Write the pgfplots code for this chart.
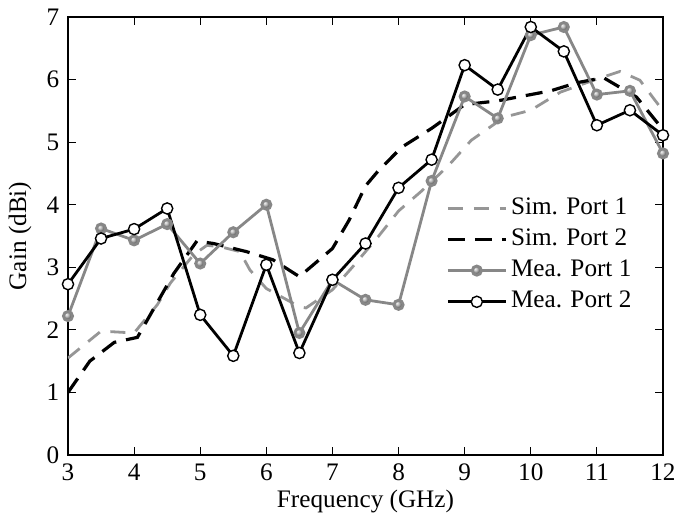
\documentclass[border=0pt]{standalone}
\usepackage{fontspec}
\setmainfont{Liberation Serif}
\usepackage{pgfplots}
\pgfplotsset{compat=1.18}
\definecolor{simgray}{RGB}{150,150,150}
\definecolor{meagray}{RGB}{135,135,135}
\begin{document}
\fontsize{12.6}{15}\selectfont
\begin{tikzpicture}
\useasboundingbox (-34pt,-29pt) rectangle (311pt,227.5pt);
\begin{axis}[
  scale only axis,
  width=297.5pt, height=219pt,
  xmin=3, xmax=12, ymin=0, ymax=7,
  xtick={3,4,...,12}, ytick={0,1,...,7},
  tick align=inside,
  major tick length=4pt,
  axis line style={line width=0.9pt},
  tick style={line width=0.6pt, black},
  /pgf/number format/assume math mode=true,
  tick label style={font=\fontsize{12.6}{15}\selectfont},
  label style={font=\fontsize{12.6}{15}\selectfont},
  xlabel={Frequency (GHz)},
  ylabel={Gain (dBi)},
  xlabel style={yshift=4pt},
  ylabel style={yshift=-1pt},
  legend style={at={(rel axis cs:0.635,0.60)}, anchor=north west, draw=none, fill=none,
    inner sep=0pt, row sep=0pt,
    nodes={text height=9pt, text depth=3pt, inner sep=1.8pt, font=\fontsize{12.6}{15}\selectfont}},
  legend cell align=left,
  legend image code/.code={\draw[mark repeat=2,mark phase=2,#1] plot coordinates {(0pt,0pt) (14.5pt,0pt) (29pt,0pt)};},
]
% Sim. Port 1
\addplot[simgray, line width=1.4pt, dash pattern=on 7.5pt off 5.5pt] coordinates {
(3,1.55) (3.5,1.98) (4,1.95) (4.35,2.4) (4.55,2.75) (4.9,3.2) (5.1,3.35) (5.3,3.33) (5.6,3.25)
(5.75,2.96) (6,2.66) (6.5,2.37) (6.6,2.35) (7,2.64) (7.3,3.0) (7.7,3.5) (8,3.9) (8.35,4.22)
(8.75,4.62) (9.1,5.03) (9.6,5.4) (10,5.51) (10.45,5.8) (10.95,5.99) (11.35,6.13) (11.65,5.99) (12,5.5)};
\addlegendentry{Sim. Port 1}
% Sim. Port 2
\addplot[black, line width=1.6pt, dash pattern=on 8.5pt off 5pt] coordinates {
(3,1.0) (3.33,1.5) (3.7,1.8) (4.05,1.88) (4.6,2.9) (4.95,3.42) (5.2,3.38) (5.7,3.25) (6.1,3.12)
(6.5,2.85) (7,3.3) (7.25,3.75) (7.5,4.3) (7.7,4.55) (8.05,4.92) (8.5,5.22) (9,5.6) (9.5,5.66)
(10.3,5.82) (10.7,5.95) (11.1,6.03) (11.6,5.72) (12,5.2)};
\addlegendentry{Sim. Port 2}
% Mea. Port 1
\addplot[meagray, line width=1.4pt, mark=ball, mark size=2.3pt, mark options={ball color=gray!65}] coordinates {
(3,2.22) (3.5,3.62) (4,3.43) (4.5,3.69) (5,3.06) (5.5,3.56) (6,4.0) (6.5,1.95) (7,2.80)
(7.5,2.48) (8,2.40) (8.5,4.38) (9,5.73) (9.5,5.38) (10,6.71) (10.5,6.84) (11,5.76) (11.5,5.82) (12,4.82)};
\addlegendentry{Mea. Port 1}
% Mea. Port 2
\addplot[black, line width=1.4pt, mark=*, mark size=2.8pt, mark options={fill=white, line width=0.7pt}] coordinates {
(3,2.73) (3.5,3.46) (4,3.61) (4.5,3.94) (5,2.24) (5.5,1.585) (6,3.04) (6.5,1.63) (7,2.80)
(7.5,3.38) (8,4.27) (8.5,4.72) (9,6.23) (9.5,5.84) (10,6.84) (10.5,6.45) (11,5.27) (11.5,5.51) (12,5.11)};
\addlegendentry{Mea. Port 2}
\end{axis}
\end{tikzpicture}
\end{document}
